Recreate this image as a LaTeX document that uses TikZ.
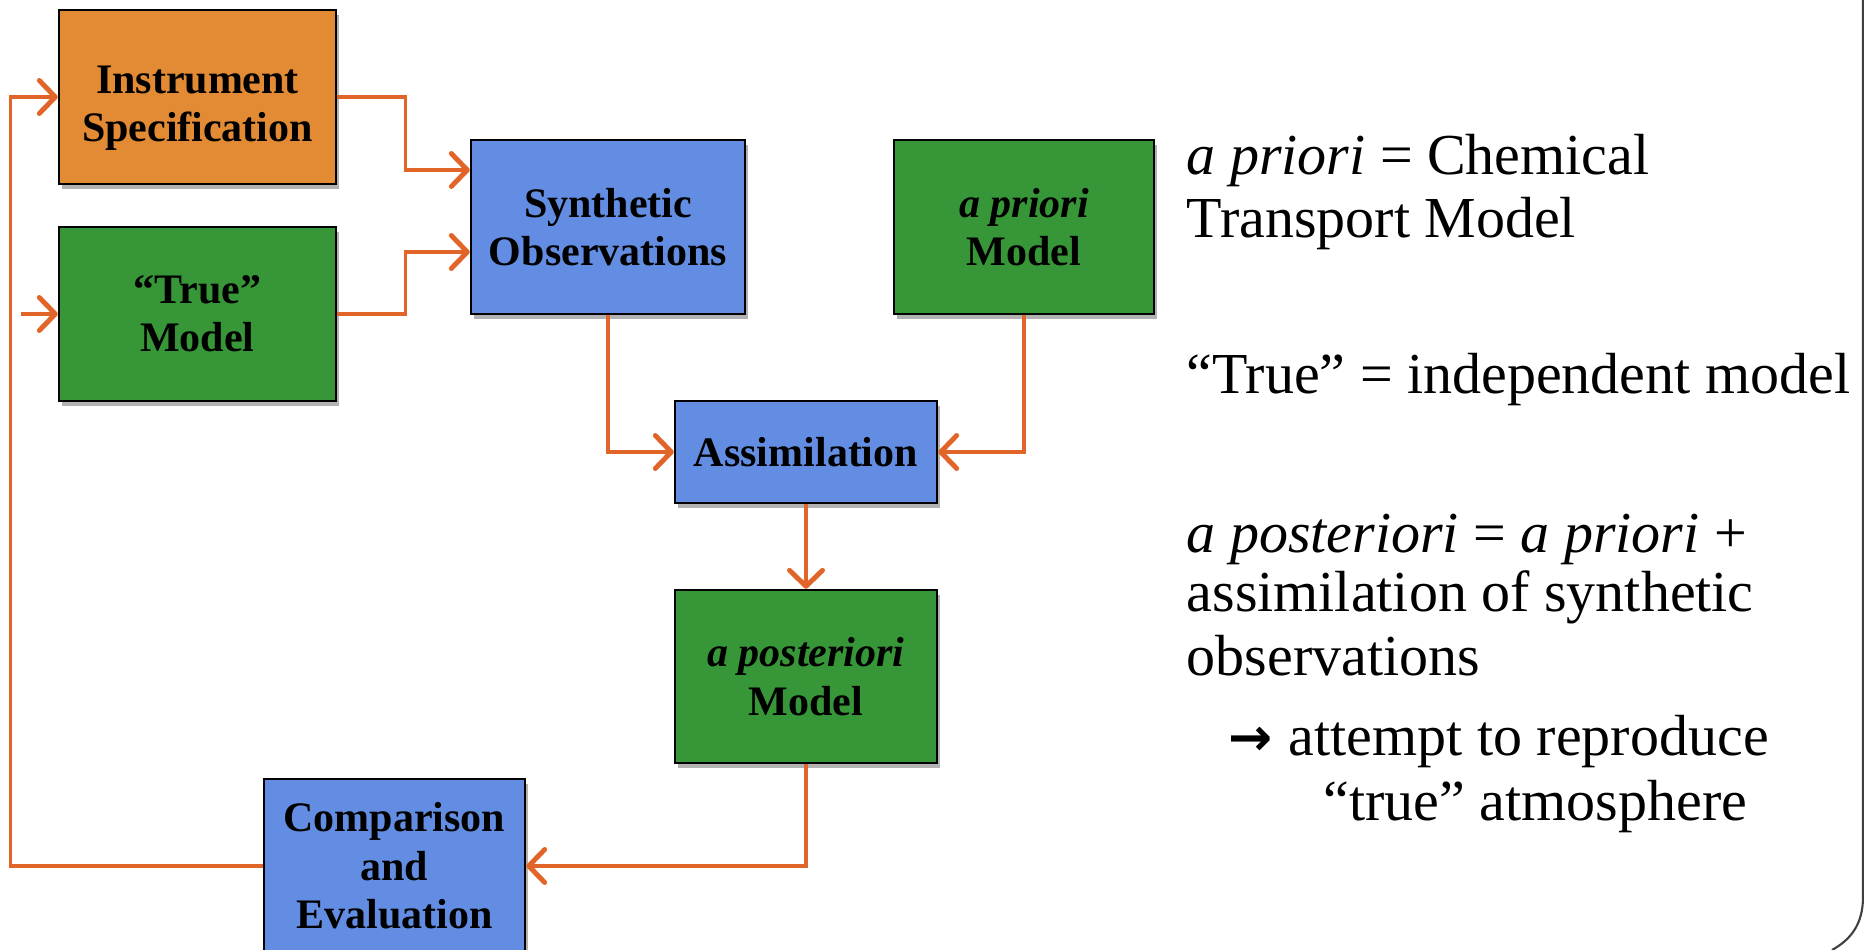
\documentclass[tikz,border=0pt]{standalone}
\usepackage{fontspec}
\setmainfont{Liberation Serif}
\newfontfamily\arrowfont{DejaVu Sans}
\usetikzlibrary{arrows.meta,shadows}

\definecolor{instrorange}{RGB}{227,138,53}
\definecolor{modelgreen}{RGB}{55,150,55}
\definecolor{stepblue}{RGB}{98,141,226}
\definecolor{flowline}{RGB}{225,100,40}

\tikzset{
  block/.style={draw=black, line width=0.7pt, minimum width=2.74cm, minimum height=1.74cm,
    inner sep=0pt, align=center, font=\fontsize{11.95}{13.8}\selectfont\bfseries,
    drop shadow={shadow xshift=0.03cm, shadow yshift=-0.05cm, opacity=0.3, fill=black}},
  flow/.style={draw=flowline, line width=0.9pt,
    -{Straight Barb[length=0.16cm, width=0.33cm, line width=1.4pt, round]}},
  note/.style={anchor=base west, inner sep=0pt, font=\fontsize{16.5}{17.8}\selectfont},
}

\begin{document}
\begin{tikzpicture}
            \useasboundingbox (0, 0) rectangle (18.64, 9.5);
            %\draw[lightgray] (0, 0) grid (18, 9);
            \node[block, fill=instrorange, minimum width=2.77cm] (instr) at (1.975, 8.53) {\rule{0pt}{0.5cm}Instrument\\Specification};
            \node[block, fill=modelgreen, minimum width=2.77cm] (truem) at (1.975, 6.36) {“True”\\Model};
            \node[block, fill=stepblue] (synth) at (6.08, 7.23) {Synthetic\\Observations};
            \node[block, fill=modelgreen, minimum width=2.6cm] (prior) at (10.24, 7.23) {\textit{a priori}\\Model};
            \node[block, fill=stepblue, minimum width=2.62cm, minimum height=1.02cm] (assim) at (8.06, 4.98) {Assimilation};
            \node[block, fill=modelgreen, minimum width=2.62cm, minimum height=1.73cm] (post) at (8.06, 2.735) {\textit{a posteriori}\\Model};
            \node[block, fill=stepblue, minimum width=2.61cm] (comp) at (3.945, 0.84) {Comparison\\and\\Evaluation};
            \coordinate (feed) at (0.21, 6.36);

            % connectors
            \draw[flow] (instr.east) -- ++(0.68, 0) |- ([yshift=0.57cm]synth.west);
            \draw[flow] (truem.east) -- ++(0.68, 0) |- ([yshift=-0.25cm]synth.west);
            \draw[flow] (feed) -- (truem.west);
            \draw[flow] (comp.west) -| ([xshift=-0.47cm]instr.west) -- (instr.west);
            \draw[flow] (synth.south) |- (assim.west);
            \draw[flow] (prior.south) |- (assim.east);
            \draw[flow] (assim.south) -- (post.north);
            \draw[flow] (post.south) |- (comp.east);

            % notes on the right
            \node[note] (noteprior) at (11.86, 7.75) {\textit{a priori} = Chemical};
            \node[note] (noteprior2) at (11.86, 7.12) {Transport Model};
            \node[note] (notetrue) at (11.86, 5.56) {“True” = independent model};
            \node[note] (notepost) at (11.86, 3.97) {\textit{a posteriori} = \textit{a priori} +};
            \node[note] (notepost2) at (11.86, 3.38) {assimilation of synthetic};
            \node[note] (notepost3) at (11.86, 2.74) {observations};
            \node[note] (noteaim) at (12.28, 1.94) {{\arrowfont\bfseries\fontsize{15}{15}\selectfont →}\hspace{0.16cm}attempt to reproduce};
            \node[note] (noteaim2) at (13.23, 1.29) {“true” atmosphere};

            % slide frame
            \draw[black!75, line width=0.6pt] (18.63, 9.5) -- (18.63, 0.53) .. controls (18.63, 0.25) and (18.5, 0.1) .. (18.32, 0);
        \end{tikzpicture}
\end{document}
